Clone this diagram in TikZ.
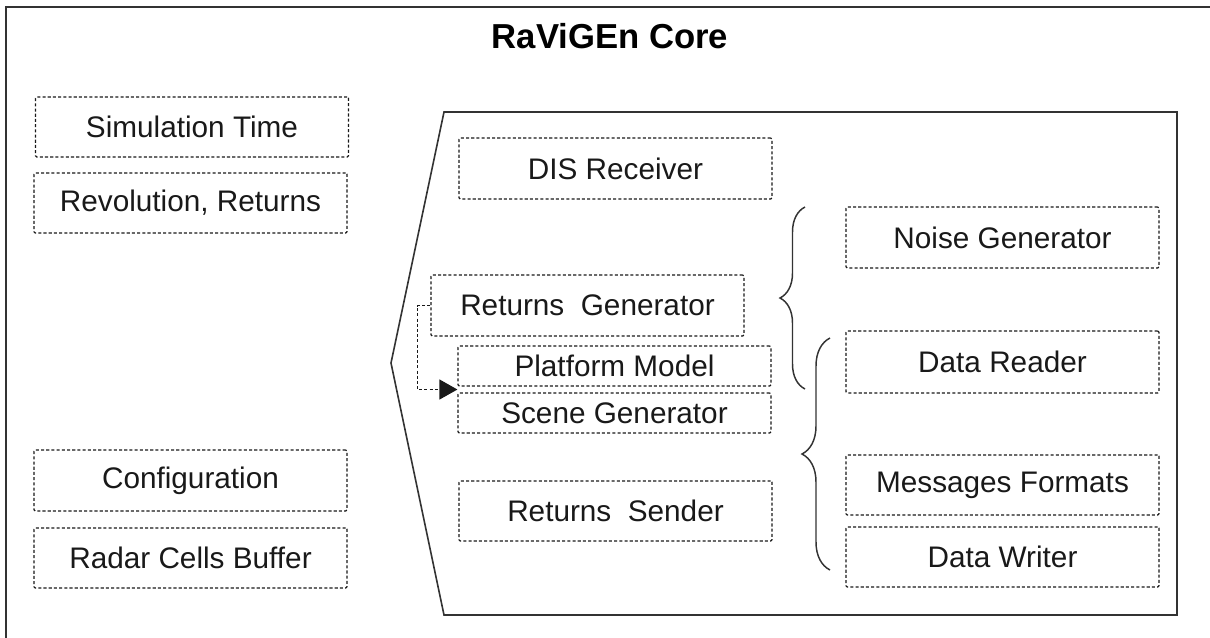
\documentclass[tikz,border=0pt]{standalone}
\usepackage{fontspec}
\setmainfont{Liberation Sans}
\usetikzlibrary{arrows.meta,decorations.pathreplacing,calc}
\begin{document}
\begin{tikzpicture}[x=0.75pt,y=-0.75pt,
  comp/.style={draw=black!90, line width=0.9pt, dash pattern=on 2.3pt off 1.6pt,
    rounded corners=1pt, minimum width=313*0.75pt, minimum height=60*0.75pt,
    inner sep=0pt, font=\fontsize{22.3pt}{25pt}\selectfont, text=black!90},
  thin comp/.style={comp, minimum height=40*0.75pt},
  frame/.style={draw=black!80, line width=1.2pt},
  bracestyle/.style={draw=black!80, line width=1.1pt, decorate},
  flow/.style={draw=black!90, line width=0.9pt, dash pattern=on 2.3pt off 1.6pt,
    -{Triangle[length=13.5pt,width=15pt]}}]
\useasboundingbox (0,0) rectangle (1210,637);
\draw[frame] (6,640) -- (6,7) -- (1215,7);
\node[font=\bfseries\fontsize{26pt}{30pt}\selectfont] (title) at (610,36) {RaViGEn Core};
\draw[frame] (444,112) -- (1177,112) -- (1177,615) -- (444,615) -- (391,363) -- cycle;
% left column
\node[comp] (simt) at (192,127) {Simulation Time};
\node[comp] (rev) at (190.5,203) {Revolution, Returns};
\node[comp, minimum height=61*0.75pt] (conf) at (190.5,480.5) {Configuration};
\node[comp] (rcb) at (190.5,558) {Radar Cells Buffer};
% middle column
\node[comp, minimum height=61*0.75pt] (dis) at (615.5,168.5) {DIS Receiver};
\node[comp, minimum height=61*0.75pt] (rg) at (587.5,305.5) {Returns\ \ Generator};
\node[thin comp] (pm) at (614.5,366) {Platform Model};
\node[thin comp] (sg) at (614.5,413) {Scene Generator};
\node[comp] (rs) at (615.5,511) {Returns\ \ Sender};
% right column
\node[comp, minimum height=61*0.75pt] (ng) at (1002.5,237.5) {Noise Generator};
\node[comp, minimum height=62*0.75pt] (dr) at (1002.5,362) {Data Reader};
\node[comp] (mf) at (1002.5,485) {Messages Formats};
\node[comp] (dw) at (1002.5,557) {Data Writer};
% dashed arrow
\coordinate (tip) at ($(pm.south west)!0.5!(sg.north west)$);
\draw[flow] (rg.west) -- ++(-13,0) |- (tip);
% braces
\coordinate (b1s) at (805,389);
\coordinate (b1e) at (805,207);
\draw[bracestyle, decoration={brace, amplitude=18.75pt}] (b1s) -- (b1e);
\coordinate (b2s) at (830,570);
\coordinate (b2e) at (830,338);
\draw[bracestyle, decoration={brace, amplitude=21pt}] (b2s) -- (b2e);
\end{tikzpicture}
\end{document}
